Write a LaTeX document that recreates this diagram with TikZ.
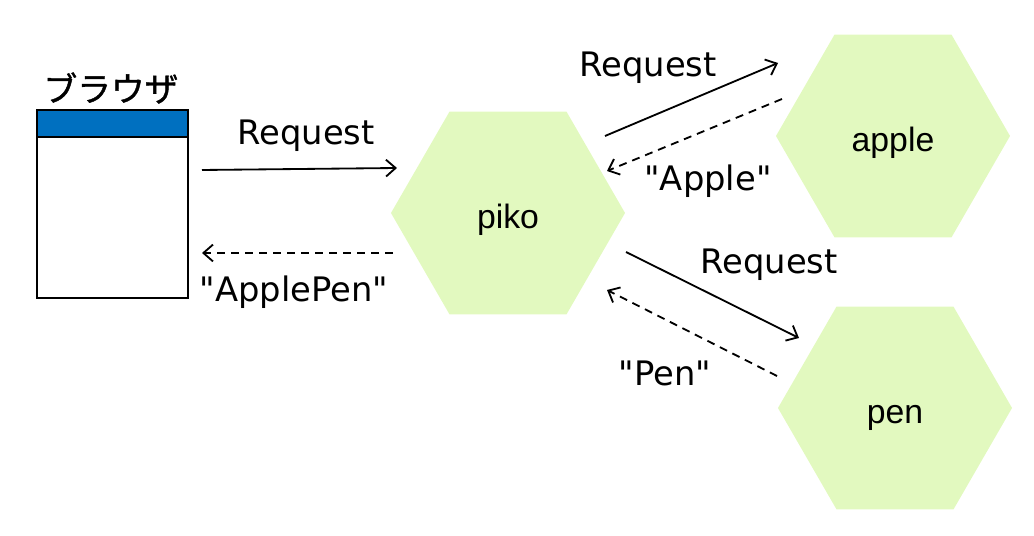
\documentclass[tikz,border=0pt]{standalone}
\usepackage{fontspec}
\setmainfont{DejaVu Sans}
\newfontfamily\jpfont{Noto Sans CJK JP}[FakeBold=1.2]
\newfontfamily\hexfont{Liberation Sans}
\usepackage{tikz}
\usetikzlibrary{shapes.geometric}
\usetikzlibrary{arrows.meta}
\definecolor{hexgreen}{HTML}{E2F9BF}
\definecolor{barblue}{HTML}{0070C0}

\begin{document}
\begin{tikzpicture}[x=0.025cm,y=-0.025cm,
  hexnode/.style={regular polygon, regular polygon sides=6, minimum size=5.85cm,
    inner sep=0pt, text height=1.1em, fill=hexgreen, font=\hexfont},
  req/.style={line width=1.3pt, -{Straight Barb[length=2.4mm,width=4.2mm]}},
  resp/.style={req, dash pattern=on 0.2cm off 0.15cm}]
\fontsize{24pt}{28pt}\selectfont
\useasboundingbox (0,0) rectangle (1034,536);
% browser window
\node[draw, line width=1.4pt, minimum width=3.775cm, minimum height=4.7cm, anchor=north west] (browser) at (36,109) {};
\node[draw, line width=1.4pt, fill=barblue, minimum width=3.775cm, minimum height=0.675cm, anchor=north] (bar) at (browser.north) {};
\node[font=\jpfont\fontsize{24pt}{28pt}\selectfont] (title) at (111,88) {ブラウザ};
% servers
\node[hexnode] (piko) at (508,213) {piko};
\node[hexnode] (apple) at (893,136) {apple};
\node[hexnode] (pen) at (895,408) {pen};
% connector ends
\coordinate (b1) at (202,170);
\coordinate (p1) at (397,168);
\coordinate (p2) at (393,253);
\coordinate (b2) at (202,253);
\coordinate (p3) at (605,136);
\coordinate (a1) at (778,63);
\coordinate (a2) at (782,99);
\coordinate (p4) at (607,171);
\coordinate (p5) at (626,252);
\coordinate (n1) at (799,338);
\coordinate (n2) at (777,376);
\coordinate (p6) at (607,290);
\draw[req] (b1) -- (p1);
\draw[resp] (p2) -- (b2);
\draw[req] (p3) -- (a1);
\draw[resp] (a2) -- (p4);
\draw[req] (p5) -- (n1);
\draw[resp] (n2) -- (p6);
% labels
\node (reqA) at (306,136) {Request};
\node (ansA) at (294,292) {\textquotedbl ApplePen\textquotedbl};
\node (reqB) at (648,68) {Request};
\node (ansB) at (708,181) {\textquotedbl Apple\textquotedbl};
\node (reqC) at (769,265) {Request};
\node (ansC) at (665,373) {\textquotedbl Pen\textquotedbl};
\end{tikzpicture}
\end{document}
